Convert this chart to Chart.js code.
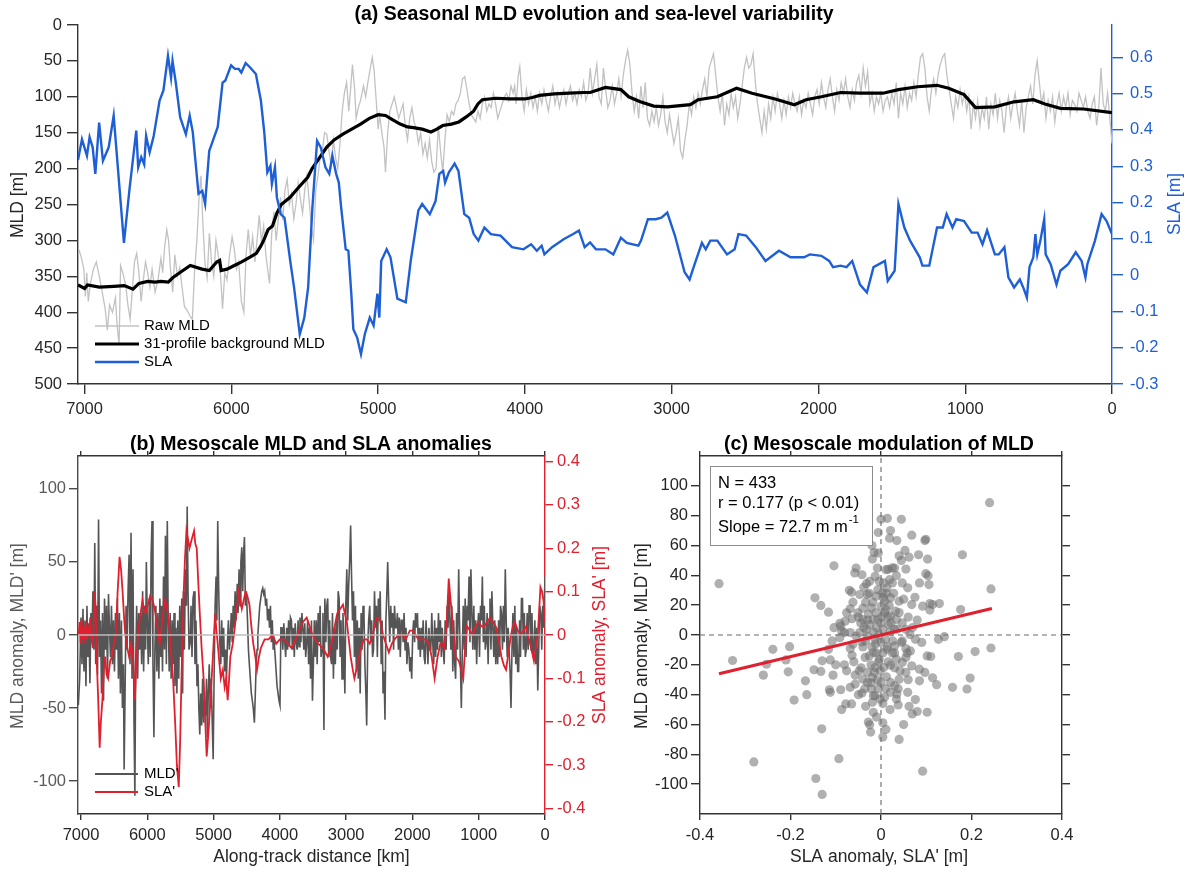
<!DOCTYPE html>
<html>
<head>
<meta charset="utf-8">
<script src="https://cdn.jsdelivr.net/npm/chart.js@4.4.1/dist/chart.umd.min.js"></script>
<style>
  body { margin: 0; background: #fff; width: 1195px; height: 874px; overflow: hidden; position: relative; }
  canvas { position: absolute; }
  #chartA { left: 0; top: 0; }
  #chartB { left: 0; top: 420px; }
  #chartC { left: 615px; top: 420px; }
</style>
</head>
<body>
<canvas id="chartA" width="1195" height="430"></canvas>
<canvas id="chartB" width="615" height="454"></canvas>
<canvas id="chartC" width="580" height="454"></canvas>
<script>
// ---- data: along-track distance [km] and values ----
const distTicks = [0, 1000, 2000, 3000, 4000, 5000, 6000, 7000];
const mldTicks = [0, 50, 100, 150, 200, 250, 300, 350, 400, 450, 500];
const slaTicks = [-0.3, -0.2, -0.1, 0, 0.1, 0.2, 0.3, 0.4, 0.5, 0.6];
const anomMldTicks = [-100, -50, 0, 50, 100];
const anomSlaTicks = [-0.4, -0.3, -0.2, -0.1, 0, 0.1, 0.2, 0.3, 0.4];
const scatXTicks = [-0.4, -0.2, 0, 0.2, 0.4];
const scatYTicks = [-100, -80, -60, -40, -20, 0, 20, 40, 60, 80, 100];

// raw MLD [km, m]
const rawMld = [[7045,320],[7035,315],[7020,326],[7005,340],[6995,378],[6985,345],[6975,385],[6960,360],[6940,340],[6920,330],[6900,350],[6880,372],[6860,395],[6845,425],[6830,390],[6810,400],[6790,380],[6778,420],[6765,445],[6755,335],[6740,345],[6720,362],[6705,390],[6690,410],[6675,370],[6660,330],[6645,318],[6630,345],[6615,385],[6600,355],[6585,330],[6570,345],[6555,365],[6540,340],[6520,372],[6500,355],[6480,325],[6468,345],[6455,310],[6440,285],[6428,300],[6415,340],[6400,372],[6385,320],[6368,350],[6352,338],[6336,365],[6320,392],[6300,398],[6283,405],[6266,410],[6250,340],[6235,300],[6220,240],[6207,210],[6195,272],[6180,332],[6165,352],[6150,290],[6135,330],[6120,350],[6105,300],[6090,320],[6075,345],[6060,395],[6045,345],[6030,355],[6012,320],[5995,295],[5980,312],[5965,340],[5950,330],[5932,385],[5915,400],[5900,320],[5885,285],[5870,322],[5855,295],[5840,330],[5825,300],[5810,265],[5795,302],[5780,280],[5765,320],[5750,345],[5740,360],[5725,290],[5710,260],[5695,300],[5680,270],[5665,240],[5650,272],[5635,230],[5620,215],[5605,250],[5590,235],[5575,270],[5560,250],[5545,220],[5530,242],[5515,262],[5500,230],[5485,210],[5470,245],[5455,282],[5440,300],[5425,230],[5410,210],[5395,185],[5380,175],[5365,150],[5350,152],[5335,175],[5320,195],[5305,160],[5290,185],[5275,200],[5260,165],[5245,120],[5230,95],[5215,80],[5200,120],[5188,90],[5175,55],[5160,90],[5150,130],[5135,115],[5120,105],[5100,85],[5085,100],[5070,80],[5055,62],[5040,45],[5028,62],[5015,100],[5000,145],[4990,125],[4975,150],[4960,170],[4950,205],[4935,150],[4920,120],[4905,110],[4890,100],[4875,115],[4860,130],[4845,120],[4830,110],[4815,140],[4800,160],[4785,130],[4770,115],[4755,135],[4740,145],[4725,165],[4710,150],[4695,180],[4680,165],[4665,185],[4650,160],[4635,190],[4620,205],[4605,200],[4590,140],[4575,175],[4560,205],[4545,160],[4530,125],[4515,135],[4500,120],[4485,125],[4470,110],[4455,105],[4440,95],[4425,75],[4410,72],[4395,90],[4380,110],[4365,125],[4350,130],[4335,135],[4320,120],[4305,130],[4290,110],[4275,100],[4260,120],[4245,110],[4230,115],[4215,95],[4200,110],[4185,130],[4170,120],[4155,110],[4140,100],[4125,95],[4110,105],[4095,85],[4080,95],[4070,85],[4060,110],[4045,70],[4035,58],[4020,100],[4005,120],[3990,90],[3975,110],[3960,95],[3945,115],[3930,100],[3915,120],[3900,95],[3885,110],[3870,90],[3855,105],[3840,120],[3825,100],[3810,85],[3795,110],[3780,95],[3765,115],[3750,100],[3735,90],[3720,110],[3705,95],[3690,85],[3675,105],[3660,95],[3645,110],[3630,90],[3615,100],[3600,80],[3585,105],[3570,95],[3555,60],[3540,95],[3525,75],[3510,55],[3495,100],[3480,110],[3465,60],[3450,90],[3435,115],[3420,105],[3405,85],[3390,110],[3375,95],[3360,75],[3345,100],[3330,70],[3315,50],[3300,35],[3285,55],[3270,95],[3255,120],[3240,100],[3225,130],[3210,85],[3195,115],[3180,80],[3165,130],[3150,140],[3135,120],[3120,135],[3105,115],[3090,140],[3075,125],[3060,100],[3045,135],[3030,150],[3015,125],[3000,145],[2985,165],[2970,150],[2955,130],[2940,175],[2925,185],[2910,160],[2895,140],[2880,110],[2865,125],[2850,100],[2835,115],[2820,95],[2805,110],[2790,90],[2775,75],[2760,100],[2745,60],[2730,50],[2715,40],[2700,70],[2685,100],[2670,120],[2655,95],[2640,140],[2625,110],[2610,125],[2595,95],[2580,115],[2565,100],[2550,130],[2535,110],[2520,85],[2505,60],[2490,45],[2475,60],[2460,55],[2445,40],[2430,80],[2415,110],[2400,130],[2385,150],[2370,120],[2355,145],[2340,110],[2325,130],[2310,100],[2295,120],[2280,95],[2265,110],[2250,130],[2235,105],[2220,125],[2205,100],[2190,115],[2175,95],[2160,110],[2145,120],[2130,100],[2115,125],[2100,105],[2085,115],[2070,95],[2055,110],[2040,125],[2025,100],[2010,90],[1995,110],[1980,80],[1965,100],[1950,115],[1935,90],[1920,75],[1905,100],[1890,120],[1875,90],[1860,105],[1845,80],[1830,95],[1815,75],[1800,100],[1785,115],[1770,90],[1755,105],[1740,80],[1725,70],[1710,95],[1695,60],[1680,85],[1665,65],[1650,110],[1635,95],[1620,120],[1605,100],[1590,110],[1575,95],[1560,120],[1545,105],[1530,100],[1515,115],[1500,95],[1485,110],[1470,80],[1455,130],[1440,95],[1425,110],[1410,85],[1395,115],[1380,95],[1365,105],[1350,80],[1335,100],[1320,70],[1305,45],[1290,40],[1275,60],[1260,100],[1245,120],[1230,90],[1215,75],[1200,95],[1185,70],[1170,55],[1155,45],[1140,40],[1125,70],[1110,90],[1095,110],[1080,130],[1065,100],[1050,115],[1035,90],[1020,110],[1005,95],[990,120],[975,100],[960,145],[945,110],[930,130],[915,105],[900,140],[885,115],[870,130],[855,100],[840,145],[825,110],[810,125],[795,95],[780,130],[765,105],[750,120],[735,150],[720,115],[705,100],[690,130],[675,110],[660,95],[645,120],[630,140],[615,105],[600,150],[585,115],[570,100],[555,85],[540,110],[525,70],[510,50],[495,80],[480,110],[465,95],[450,130],[435,105],[420,120],[405,100],[390,135],[375,110],[360,95],[345,120],[330,100],[315,115],[300,95],[285,125],[270,105],[255,110],[240,120],[225,95],[210,105],[195,115],[180,100],[165,120],[150,130],[135,110],[120,100],[105,140],[90,115],[75,60],[60,110],[45,120],[30,95],[15,130],[0,165]];

// 31-profile background MLD [km, m]
const bgMld = [[7045,362],[7000,367],[6980,362],[6900,365],[6800,364],[6730,363],[6670,368],[6630,360],[6570,357],[6520,358],[6480,357],[6430,358],[6400,352],[6330,342],[6280,335],[6200,340],[6150,342],[6100,330],[6080,328],[6070,342],[6030,340],[5980,335],[5930,330],[5870,323],[5830,318],[5800,308],[5780,300],[5750,285],[5720,280],[5690,262],[5660,250],[5600,240],[5550,228],[5480,212],[5450,200],[5400,185],[5350,170],[5300,160],[5240,152],[5180,145],[5120,138],[5060,130],[5000,125],[4950,126],[4900,132],[4850,138],[4800,142],[4760,143],[4700,145],[4640,149],[4600,145],[4560,140],[4500,138],[4450,135],[4400,128],[4350,120],[4320,110],[4290,104],[4200,102],[4100,103],[4000,103],[3950,101],[3900,98],[3850,97],[3800,96],[3700,95],[3600,94],[3556,94],[3451,87],[3346,90],[3293,100],[3214,107],[3122,113],[3030,114],[2873,111],[2820,104],[2689,100],[2558,88],[2453,95],[2295,103],[2164,111],[2085,104],[1980,100],[1849,94],[1717,95],[1560,95],[1455,90],[1324,86],[1192,84],[1113,88],[1008,97],[930,115],[798,114],[667,107],[536,104],[457,110],[352,116],[194,117],[0,122]];

// SLA [km, m]
const sla = [[7045,0.317],[7018,0.374],[6984,0.329],[6966,0.38],[6945,0.352],[6927,0.279],[6901,0.42],[6875,0.315],[6836,0.352],[6802,0.439],[6732,0.089],[6693,0.241],[6648,0.398],[6635,0.297],[6614,0.325],[6594,0.305],[6581,0.384],[6557,0.338],[6529,0.384],[6489,0.481],[6463,0.509],[6432,0.604],[6411,0.544],[6401,0.59],[6380,0.534],[6349,0.435],[6310,0.388],[6284,0.439],[6263,0.394],[6224,0.224],[6198,0.232],[6179,0.196],[6151,0.342],[6133,0.362],[6093,0.408],[6060,0.53],[6041,0.536],[6002,0.578],[5976,0.568],[5950,0.568],[5932,0.558],[5903,0.584],[5872,0.572],[5833,0.554],[5799,0.481],[5776,0.394],[5755,0.283],[5734,0.301],[5724,0.251],[5703,0.297],[5690,0.214],[5664,0.168],[5638,0.158],[5599,0.039],[5573,-0.034],[5534,-0.163],[5503,-0.117],[5477,-0.034],[5448,0.186],[5416,0.37],[5391,0.352],[5359,0.297],[5333,0.279],[5312,0.329],[5286,0.279],[5268,0.255],[5252,0.186],[5221,0.071],[5203,0.067],[5182,-0.057],[5169,-0.149],[5143,-0.172],[5117,-0.218],[5091,-0.163],[5057,-0.117],[5031,-0.139],[5005,-0.051],[4992,-0.117],[4979,0.039],[4942,0.071],[4916,0.049],[4869,-0.065],[4812,-0.075],[4778,0.039],[4726,0.178],[4700,0.196],[4648,0.168],[4609,0.204],[4583,0.279],[4557,0.287],[4544,0.255],[4518,0.283],[4479,0.307],[4453,0.287],[4413,0.168],[4380,0.158],[4349,0.113],[4317,0.095],[4276,0.131],[4232,0.113],[4166,0.109],[4088,0.077],[4010,0.071],[3958,0.085],[3919,0.067],[3886,0.081],[3867,0.057],[3815,0.077],[3736,0.099],[3671,0.113],[3632,0.123],[3593,0.077],[3556,0.09],[3516,0.071],[3451,0.071],[3398,0.057],[3346,0.103],[3306,0.089],[3227,0.081],[3209,0.095],[3162,0.154],[3109,0.154],[3070,0.158],[3030,0.172],[2978,0.109],[2912,0.008],[2878,-0.012],[2847,0.026],[2794,0.089],[2768,0.071],[2737,0.095],[2689,0.095],[2623,0.057],[2571,0.071],[2545,0.113],[2493,0.109],[2427,0.077],[2361,0.039],[2269,0.067],[2190,0.049],[2098,0.049],[2059,0.057],[1980,0.053],[1927,0.039],[1901,0.022],[1849,0.026],[1809,0.022],[1770,0.039],[1717,-0.026],[1670,-0.048],[1625,0.022],[1547,0.039],[1528,-0.016],[1481,0.012],[1455,0.196],[1415,0.131],[1376,0.095],[1310,0.049],[1292,0.026],[1245,0.026],[1192,0.131],[1153,0.131],[1127,0.168],[1087,0.131],[1061,0.154],[1008,0.149],[956,0.117],[916,0.117],[882,0.085],[851,0.123],[798,0.057],[772,0.057],[733,0.077],[706,-0.006],[667,-0.034],[628,-0.012],[601,-0.038],[580,-0.062],[562,0.022],[536,0.049],[522,0.113],[509,0.057],[488,0.095],[462,0.154],[452,0.057],[418,0.03],[378,-0.026],[352,0.012],[299,0.03],[247,0.063],[207,0.039],[181,-0.006],[168,0.03],[116,0.095],[71,0.168],[37,0.149],[0,0.113]];

// MLD anomaly MLD' [km, m]
const mldAnom = [[7040,-48],[7020,-30],[7000,12],[6985,-20],[6970,18],[6955,-25],[6940,10],[6925,-35],[6910,20],[6895,-15],[6880,8],[6865,-33],[6850,15],[6835,-5],[6820,30],[6805,-10],[6792,63],[6778,-20],[6765,20],[6750,-27],[6735,79],[6720,-15],[6705,10],[6690,-40],[6675,15],[6660,-45],[6645,25],[6630,-10],[6615,20],[6600,-30],[6585,28],[6570,5],[6555,-15],[6540,20],[6525,-20],[6510,10],[6495,-25],[6480,15],[6465,-10],[6450,25],[6435,-30],[6420,15],[6405,-40],[6390,10],[6375,-50],[6360,-20],[6349,-92],[6335,-40],[6320,20],[6305,-10],[6290,30],[6274,55],[6260,-20],[6245,70],[6230,-30],[6215,45],[6200,-60],[6187,-110],[6175,-20],[6160,20],[6145,-30],[6130,15],[6115,-10],[6101,15],[6085,-20],[6070,30],[6055,-25],[6040,20],[6025,-10],[6014,50],[6000,10],[5985,-20],[5970,25],[5955,-15],[5942,55],[5928,78],[5914,-20],[5900,-70],[5885,-10],[5870,20],[5855,-25],[5840,15],[5825,-30],[5810,25],[5795,-15],[5784,20],[5770,-25],[5755,40],[5740,-10],[5726,68],[5712,-20],[5698,78],[5684,10],[5669,-25],[5655,15],[5640,-30],[5625,10],[5610,-20],[5596,15],[5582,-35],[5568,5],[5553,-40],[5540,10],[5525,-30],[5510,20],[5495,-15],[5480,25],[5467,-40],[5455,30],[5440,-10],[5425,45],[5410,20],[5398,88],[5385,30],[5370,-10],[5352,-5],[5340,20],[5325,-15],[5310,25],[5294,30],[5280,-20],[5265,10],[5250,-35],[5236,-20],[5222,-50],[5208,-68],[5195,-40],[5180,-62],[5165,-30],[5150,-60],[5135,-45],[5120,-55],[5107,-30],[5093,-70],[5080,-40],[5065,-20],[5050,-50],[5035,-30],[5020,-60],[5006,-85],[4992,-30],[4977,20],[4962,40],[4950,10],[4937,78],[4922,30],[4906,-5],[4891,-20],[4877,10],[4862,-15],[4848,5],[4833,-25],[4819,-10],[4805,-30],[4790,-5],[4776,10],[4762,-10],[4747,0],[4733,15],[4718,-5],[4704,20],[4690,5],[4675,30],[4660,10],[4643,35],[4630,15],[4615,45],[4600,20],[4588,50],[4574,60],[4560,30],[4548,55],[4534,67],[4520,20],[4505,30],[4488,10],[4474,-10],[4460,-20],[4445,-30],[4430,-40],[4415,-45],[4401,-50],[4384,-60],[4370,-40],[4357,-20],[4344,-10],[4332,0],[4318,10],[4303,20],[4288,25],[4272,30],[4258,32],[4243,28],[4229,30],[4214,20],[4200,25],[4185,10],[4170,18],[4156,5],[4142,20],[4128,-5],[4114,10],[4100,-10],[4085,-5],[4070,-15],[4056,-25],[4042,-35],[4027,-40],[4012,-45],[3998,-48],[3984,5],[3969,5],[3955,-10],[3940,8],[3926,-5],[3912,-15],[3897,5],[3883,-10],[3868,10],[3854,-8],[3840,12],[3825,10],[3811,-10],[3796,5],[3782,-15],[3768,8],[3753,-5],[3739,-10],[3725,10],[3710,-8],[3696,12],[3682,-5],[3667,15],[3653,5],[3638,-10],[3624,8],[3610,-15],[3595,-5],[3580,10],[3566,-20],[3552,5],[3537,-30],[3523,10],[3508,-45],[3494,-20],[3480,10],[3466,-15],[3451,10],[3437,-20],[3422,15],[3408,-5],[3393,20],[3379,-15],[3364,-10],[3350,15],[3335,-65],[3321,25],[3306,-5],[3292,20],[3278,25],[3263,-15],[3249,10],[3234,-15],[3220,-20],[3206,15],[3192,-30],[3177,5],[3163,-20],[3148,10],[3134,-10],[3120,30],[3106,25],[3091,-15],[3077,10],[3062,-30],[3048,15],[3034,-5],[3019,-40],[3005,20],[2990,45],[2976,10],[2961,35],[2947,50],[2932,75],[2918,40],[2904,10],[2889,30],[2875,-15],[2860,20],[2846,-25],[2831,10],[2817,-30],[2803,5],[2788,-40],[2774,15],[2760,-10],[2745,20],[2731,15],[2717,-20],[2702,-40],[2690,-62],[2675,-10],[2660,10],[2644,20],[2630,-5],[2615,10],[2601,-15],[2587,-10],[2572,30],[2558,5],[2543,20],[2529,-15],[2514,25],[2500,10],[2486,30],[2471,-20],[2457,10],[2443,-40],[2428,-25],[2414,-58],[2400,10],[2385,30],[2373,50],[2357,20],[2342,-5],[2327,20],[2313,5],[2298,15],[2284,-10],[2270,20],[2255,5],[2241,5],[2227,15],[2212,-10],[2198,12],[2183,-15],[2169,10],[2155,10],[2140,-5],[2126,15],[2111,-10],[2097,5],[2083,-20],[2068,-5],[2054,-10],[2039,-25],[2025,-15],[2011,-30],[1996,0],[1982,10],[1967,-5],[1953,15],[1938,5],[1924,15],[1910,-10],[1896,5],[1881,-15],[1867,5],[1852,-10],[1838,10],[1823,-15],[1809,-20],[1795,10],[1780,-5],[1766,-20],[1751,5],[1737,-10],[1723,-10],[1708,15],[1694,-5],[1679,-20],[1665,10],[1650,-15],[1636,5],[1622,-10],[1607,15],[1593,-5],[1578,10],[1564,-15],[1550,5],[1535,-10],[1521,-20],[1506,10],[1492,-10],[1477,20],[1463,5],[1448,30],[1434,30],[1420,-10],[1405,20],[1391,-25],[1377,10],[1362,-20],[1348,-30],[1334,15],[1319,-10],[1302,45],[1290,10],[1276,-20],[1262,-50],[1247,-10],[1233,20],[1218,-10],[1204,25],[1190,-15],[1175,20],[1161,10],[1146,40],[1132,-5],[1118,45],[1103,15],[1089,-10],[1074,20],[1060,-10],[1045,10],[1031,-20],[1017,5],[1002,15],[988,-15],[973,20],[959,10],[945,40],[930,-5],[916,20],[901,-10],[887,-5],[873,15],[858,-20],[844,10],[830,25],[815,-10],[801,30],[786,5],[772,-15],[758,10],[743,-20],[729,5],[714,-20],[700,10],[686,-15],[671,20],[657,15],[642,-10],[628,20],[614,-5],[599,45],[585,10],[570,-15],[556,5],[542,-10],[527,-25],[513,-50],[498,-10],[484,15],[470,-15],[455,20],[441,-20],[427,5],[412,-25],[398,-25],[383,10],[369,-15],[355,25],[340,25],[326,-10],[312,15],[297,-15],[283,-10],[269,15],[254,-10],[240,20],[225,20],[211,-10],[197,15],[182,-15],[167,-10],[153,10],[139,-20],[124,5],[109,-38],[95,-10],[80,20],[63,15],[49,-10],[35,20],[20,5],[0,40]];

// SLA anomaly SLA' [km, m]
const slaAnom = [[7034,0],[7020,0.03],[7005,-0.02],[6994,0.035],[6980,-0.01],[6965,0.02],[6950,-0.02],[6925,0.03],[6905,-0.01],[6890,0.02],[6875,0],[6861,0.04],[6840,-0.01],[6821,-0.03],[6805,0.04],[6792,0.1],[6778,0.06],[6764,-0.05],[6740,-0.15],[6718,-0.26],[6700,-0.2],[6677,-0.15],[6655,-0.08],[6637,-0.05],[6615,-0.09],[6591,-0.1],[6560,-0.06],[6533,-0.05],[6505,-0.02],[6475,0],[6447,0.1],[6432,0.14],[6418,0.18],[6395,0.15],[6372,0.1],[6350,0.04],[6331,0],[6300,-0.03],[6274,-0.05],[6245,-0.02],[6216,-0.05],[6200,-0.1],[6187,-0.15],[6165,-0.06],[6141,0],[6110,0.04],[6072,0.08],[6050,0.06],[6026,0.05],[5990,0.07],[5957,0.09],[5920,0.08],[5888,0.06],[5850,0.02],[5813,-0.02],[5775,0.03],[5738,0.08],[5710,0.07],[5680,0.04],[5645,-0.03],[5611,-0.1],[5580,-0.2],[5553,-0.3],[5525,-0.35],[5505,-0.25],[5484,-0.1],[5467,0],[5450,0.1],[5430,0.18],[5409,0.24],[5385,0.22],[5363,0.2],[5330,0.22],[5294,0.24],[5275,0.21],[5254,0.2],[5230,0.12],[5208,0.05],[5180,-0.03],[5150,-0.1],[5125,-0.2],[5104,-0.28],[5075,-0.22],[5047,-0.15],[5010,-0.05],[4977,0.05],[4957,0.01],[4937,-0.02],[4915,-0.06],[4891,-0.1],[4860,-0.08],[4833,-0.12],[4810,-0.1],[4787,-0.15],[4765,-0.1],[4747,-0.05],[4710,-0.02],[4678,0.02],[4650,0.06],[4620,0.1],[4597,0.08],[4574,0.06],[4545,0.08],[4517,0.1],[4490,0.09],[4459,0.07],[4430,0.02],[4401,-0.02],[4370,-0.05],[4344,-0.08],[4315,-0.05],[4286,-0.03],[4230,-0.01],[4171,-0.01],[4110,0],[4056,-0.02],[4000,-0.01],[3941,-0.01],[3880,-0.02],[3825,-0.03],[3765,-0.01],[3710,0.01],[3650,0.03],[3595,0.04],[3550,0.02],[3508,0],[3465,-0.01],[3422,-0.02],[3350,-0.03],[3278,-0.05],[3235,-0.03],[3192,0],[3160,0.03],[3134,0.05],[3090,0.06],[3048,0.07],[3020,0.05],[2990,0.03],[2960,-0.01],[2932,-0.05],[2900,-0.08],[2875,-0.1],[2845,-0.08],[2817,-0.06],[2775,-0.03],[2731,-0.01],[2690,-0.01],[2644,-0.02],[2600,0],[2558,0.03],[2530,0.04],[2500,0.04],[2470,0.02],[2443,0],[2400,-0.02],[2356,-0.04],[2310,-0.02],[2270,-0.01],[2210,0],[2155,0],[2100,-0.01],[2039,0.01],[1995,0.01],[1953,0],[1910,-0.01],[1867,-0.01],[1810,-0.01],[1751,-0.02],[1710,-0.05],[1665,-0.1],[1620,-0.05],[1579,-0.02],[1550,-0.02],[1521,-0.03],[1485,0.02],[1452,0.13],[1430,0.09],[1406,0.05],[1375,0],[1348,-0.05],[1300,-0.06],[1262,-0.08],[1233,-0.1],[1205,-0.03],[1175,0.02],[1130,0.01],[1089,0],[1045,0.02],[1002,0.03],[960,0.02],[916,0.02],[870,0.03],[830,0.04],[785,0.03],[743,0.02],[700,-0.01],[657,-0.05],[620,-0.07],[588,-0.08],[550,-0.04],[513,0],[485,0.02],[455,0.03],[410,0.01],[369,0],[325,0.01],[282,0.02],[255,0],[225,-0.02],[195,-0.04],[167,-0.06],[140,-0.03],[109,0],[90,0.05],[69,0.11],[45,0.1],[23,0.08],[0,0.03]];
const zeroLineKm = [7045, 0];

// scatter: [SLA' m, MLD' m]
const scatterPts = [[0.24,88.7],[-0.358,34.4],[0.243,30.9],[0.243,-8.7],[0.18,53.8],[0.176,17.1],[0.171,-14.4],[0.158,-35.1],[0.19,-36.2],[0.197,-28.9],[0.208,-11.1],[0.14,-1.1],[0.127,-2.9],[0.129,21.1],[0.108,21.1],[0.108,16.7],[0.102,-14],[0.11,-14.4],[0.114,-28.7],[0.123,-33.3],[0.102,-51.8],[0.08,-51.3],[0.069,-52.9],[0.076,-43.3],[0.062,-47.8],[0.038,-46.9],[0.04,-70],[0.092,-91.3],[0.004,-58.9],[0.011,-63.3],[0.004,-68.4],[-0.025,-60.2],[-0.023,-65.1],[-0.093,-82.9],[-0.131,-62.9],[-0.144,-96.2],[-0.13,-106.9],[-0.281,-85.1],[-0.26,-26.9],[-0.328,-17.1],[-0.253,-19.6],[-0.239,-9.6],[-0.202,-7.8],[-0.205,-24.7],[-0.21,-16.7],[-0.192,-43.6],[-0.167,-30.7],[-0.164,-40],[-0.148,-23.3],[-0.133,-24.4],[-0.13,-17.3],[-0.112,-16.7],[-0.106,-26.9],[-0.114,-36.7],[-0.112,-38.4],[-0.089,-36.7],[-0.078,-46.2],[-0.065,-46.2],[-0.087,-50],[-0.068,-35.1],[-0.057,-32.9],[-0.042,-38.9],[-0.034,-47.8],[-0.019,-45.1],[-0.017,-40.7],[-0.021,-36.2],[-0.048,-24],[-0.057,-26.9],[-0.081,-20],[-0.076,-24],[-0.064,-13.6],[-0.068,-9.1],[-0.108,-4],[-0.104,4.9],[-0.089,6],[-0.081,1.6],[-0.079,9.3],[-0.076,14.9],[-0.068,17.6],[-0.062,22],[-0.065,28.7],[-0.055,44.9],[-0.058,41.6],[-0.042,40.4],[-0.038,32],[-0.03,27.1],[-0.032,34.4],[-0.025,36],[-0.008,44.9],[-0.006,54.9],[-0.019,50.9],[-0.015,55.3],[0,77.6],[0.014,78.2],[-0.006,68.7],[0.021,70],[0.019,64.9],[0.045,77.6],[0.068,66.9],[0.035,63.3],[0.099,64.2],[0.097,63.3],[0.053,56.7],[0.04,53.1],[0.045,50],[0.083,53.8],[0.103,50.9],[0.062,52.2],[0.055,44.2],[0.034,39.8],[0.03,44.9],[0.011,43.8],[0.099,41.1],[0.104,39.8],[0.106,33.8],[0.085,34.9],[0.047,34.9],[0.059,31.6],[0.075,25.3],[0.068,20.4],[0.092,19.3],[0.114,20.4],[0.04,22.7],[0.021,24.9],[0.013,31.6],[0.025,34.9],[0.003,28.2],[-0.011,26],[-0.104,46.4],[-0.146,24.9],[-0.133,19.8],[-0.116,15.3],[-0.091,7.8],[-0.087,2.7],[-0.064,10.9],[-0.051,14.9],[-0.04,10.4],[-0.038,4.9],[-0.025,7.1],[-0.017,10.4],[-0.011,14.9],[0,19.3],[0.011,17.1],[0.021,12.7],[0.034,10.4],[0.047,8.2],[0.055,3.8],[0.064,0.4],[0.076,-2.9],[0.047,-4],[0.03,-7.3],[0.013,-9.6],[0,-5.1],[-0.013,-2.9],[-0.03,-0.7],[-0.042,-4.7],[-0.055,-0.7],[-0.062,-6.2],[-0.017,-11.8],[-0.004,-16.2],[0.006,-21.8],[-0.013,-21.8],[-0.03,-25.1],[-0.019,-28.4],[0,-31.8],[0.021,-31.8],[0.03,-34],[0.04,-29.6],[0.055,-25.1],[0.068,-20.7],[0.085,-22.9],[0.055,-15.1],[0.034,-16.2],[0.021,-20.2],[0.047,-18.4],[0.055,-9.1],[0.065,-10.7],[-0.006,-35.8],[0.021,-38.4],[0.035,-39.6],[-0.03,-31.8],[-0.04,-29.6],[-0.007,10.4],[0.004,3.8],[0.017,7.1],[0.03,3.8],[-0.021,18.2],[-0.034,22],[-0.047,27.1],[0.008,22.7],[-0.007,30.4],[0.006,34.9],[0.019,37.1],[-0.013,39.3],[-0.032,3.8],[-0.047,1.6],[-0.068,1.6],[-0.091,-1.8],[-0.017,-51.8],[-0.028,-58.4],[-0.002,-42.9],[0.008,-41.8],[-0.013,-40.7],[0.034,-42.9],[0.059,-38.4],[0.085,-30.7],[0.097,-25.1],[-0.116,-9.6],[-0.01,5],[0.01,-3],[-0.02,-8],[0.015,12],[-0.005,-18],[0.025,-12],[-0.028,14],[0.005,25],[-0.015,-25],[0.02,2],[-0.035,-15],[0.04,15],[-0.045,8],[0.045,-5],[0,8],[-0.01,-12],[0.012,-28],[-0.022,-32],[0.028,28],[-0.04,-8],[0.06,12],[-0.06,-18],[0.07,5],[-0.05,-40],[0.02,-50],[-0.01,-55],[0.05,-60],[0.025,45],[-0.02,60],[0.03,-22],[0.09,-5],[-0.1,-20],[0.08,10],[0.06,-30],[-0.07,30],[-0.005,0],[0.008,15],[-0.018,22],[0.016,-18],[-0.026,-14],[0.036,4],[-0.002,-24],[0.012,28],[-0.03,10],[0.026,-4],[-0.012,-6],[0.002,12],[-0.022,-20],[0.018,20],[0.03,-12],[-0.04,18],[0.042,-24],[-0.008,-30],[0.014,-8],[-0.016,2],[0.022,8],[-0.034,-4],[0.004,-12],[0.032,16],[-0.026,28],[0.01,-36],[-0.004,36],[0.038,-36],[-0.044,-22],[0.05,24],[0.004,-46],[-0.036,-36],[0.016,44],[-0.05,12],[0.058,-12]];
const fitX = [-0.358, 0.245];
const fitY = [-26, 17.8];
const statsLines = ['N = 433', 'r = 0.177 (p < 0.01)'];

// ---- styling helpers ----
const FONT = '"Liberation Sans", Arial, Helvetica, sans-serif';
const DARK = '#333333';
const BLUE = '#1f5fd6';
const RED = '#e0202e';

function fmt(v) { return String(+v.toFixed(1)); }

function axis(o) {
  return {
    type: 'linear', position: o.pos, min: o.min, max: o.max, reverse: !!o.reverse,
    afterBuildTicks: s => { s.ticks = o.ticks.map(v => ({ value: v })); },
    afterFit: s => { if (o.w != null) s.width = o.w; if (o.h != null) s.height = o.h; },
    border: { display: true, color: o.color, width: 1.4 },
    grid: { drawOnChartArea: false, drawTicks: true, tickLength: o.tl, color: o.color, lineWidth: 1.4 },
    ticks: {
      display: o.labels !== false, color: o.labelColor || o.color, padding: o.pad == null ? 4 : o.pad,
      autoSkip: false, maxRotation: 0, font: { family: FONT, size: 16.5 }, callback: v => fmt(v)
    }
  };
}

function line(pairs, yAxisID, color, width, order) {
  return {
    data: pairs.map(p => ({ x: p[0], y: p[1] })), yAxisID, borderColor: color, borderWidth: width,
    pointRadius: 0, fill: false, tension: 0, order, showLine: true
  };
}

function label(ctx, s, x, y, o) {
  o = o || {};
  ctx.save();
  ctx.font = (o.bold ? 'bold ' : '') + (o.size || 17.5) + 'px ' + FONT;
  ctx.fillStyle = o.color || '#262626';
  ctx.textAlign = o.align || 'center';
  ctx.textBaseline = 'middle';
  ctx.translate(x, y);
  if (o.rot) ctx.rotate(-Math.PI / 2);
  ctx.fillText(s, 0, 0);
  ctx.restore();
}

function legend(ctx, items, x0, x1, tx, y0, dy) {
  items.forEach((it, i) => {
    const y = y0 + i * dy;
    ctx.save();
    ctx.strokeStyle = it.color; ctx.lineWidth = it.w;
    ctx.beginPath(); ctx.moveTo(x0, y); ctx.lineTo(x1, y); ctx.stroke();
    ctx.restore();
    label(ctx, it.text, tx, y, { align: 'left', size: 15, color: '#000' });
  });
}

const common = {
  options: {
    responsive: false, animation: false, devicePixelRatio: 1, events: [],
    layout: { autoPadding: false, padding: 0 },
    plugins: { legend: { display: false }, tooltip: { enabled: false } }
  }
};

// ---- (a) seasonal MLD and SLA ----
new Chart(document.getElementById('chartA'), {
  type: 'line',
  data: {
    datasets: [
      line(rawMld, 'y', '#c2c2c2', 1.3, 3),
      line(bgMld, 'y', '#000000', 3.2, 2),
      line(sla, 'y2', BLUE, 2.4, 1)
    ]
  },
  options: Object.assign({}, common.options, {
    layout: { autoPadding: false, padding: { top: 25, left: 0, right: 0, bottom: 0 } },
    scales: {
      x: axis({ pos: 'bottom', min: 0, max: 7045, reverse: true, ticks: distTicks, h: 46, tl: 10, pad: 6, color: DARK, labelColor: '#262626' }),
      y: axis({ pos: 'left', min: 0, max: 500, reverse: true, ticks: mldTicks, w: 78, tl: 11, pad: 5, color: DARK, labelColor: '#262626' }),
      y2: axis({ pos: 'right', min: -0.3, max: 0.689, ticks: slaTicks, w: 83, tl: 11, pad: 7, color: BLUE })
    }
  }),
  plugins: [{
    id: 'decorA',
    afterDraw(chart) {
      const ctx = chart.ctx;
      label(ctx, '(a) Seasonal MLD evolution and sea-level variability', 594, 15, { bold: true, size: 19.5, color: '#000' });
      label(ctx, 'MLD [m]', 18.5, 205, { rot: true });
      label(ctx, 'SLA [m]', 1175, 204, { rot: true, color: BLUE });
      legend(ctx, [
        { text: 'Raw MLD', color: '#c2c2c2', w: 1.5 },
        { text: '31-profile background MLD', color: '#000', w: 3.2 },
        { text: 'SLA', color: BLUE, w: 2.6 }
      ], 95, 139, 144, 326, 18);
    }
  }]
});

// ---- (b) mesoscale anomalies ----
new Chart(document.getElementById('chartB'), {
  type: 'line',
  data: {
    datasets: [
      line(mldAnom, 'y', '#555555', 1.6, 3),
      line(slaAnom, 'y2', RED, 1.8, 2),
      line(zeroLineKm.map(k => [k, 0]), 'y', '#bdbdbd', 1.5, 1)
    ]
  },
  options: Object.assign({}, common.options, {
    scales: {
      x: axis({ pos: 'bottom', min: 0, max: 7045, reverse: true, ticks: distTicks, h: 60, tl: 6, pad: 6, color: DARK, labelColor: '#262626' }),
      x2: axis({ pos: 'top', min: 0, max: 7045, reverse: true, ticks: distTicks, h: 36, tl: 5, color: DARK, labels: false }),
      y: axis({ pos: 'left', min: -122.5, max: 122.5, ticks: anomMldTicks, w: 78, tl: 9, pad: 3, color: '#4a4a4a', labelColor: '#5a5a5a' }),
      y2: axis({ pos: 'right', min: -0.4125, max: 0.4125, ticks: anomSlaTicks, w: 70, tl: 8, pad: 4, color: RED })
    }
  }),
  plugins: [{
    id: 'decorB',
    afterDraw(chart) {
      const ctx = chart.ctx;
      label(ctx, '(b) Mesoscale MLD and SLA anomalies', 311, 25, { bold: true, size: 19.5, color: '#000' });
      label(ctx, "MLD anomaly, MLD' [m]", 18.3, 216, { rot: true, color: '#5a5a5a' });
      label(ctx, "SLA anomaly, SLA' [m]", 600, 215, { rot: true, color: RED });
      label(ctx, 'Along-track distance [km]', 311.5, 437, {});
      legend(ctx, [
        { text: "MLD'", color: '#555555', w: 1.8 },
        { text: "SLA'", color: RED, w: 1.8 }
      ], 95, 138, 144, 354, 18);
    }
  }]
});

// ---- (c) scatter ----
new Chart(document.getElementById('chartC'), {
  type: 'scatter',
  data: {
    datasets: [
      {
        type: 'line', data: fitX.map((x, i) => ({ x, y: fitY[i] })), borderColor: RED, borderWidth: 3,
        pointRadius: 0, fill: false, order: 0, yAxisID: 'y'
      },
      {
        data: scatterPts.map(p => ({ x: p[0], y: p[1] })), pointRadius: 4.6, borderWidth: 0,
        backgroundColor: 'rgba(112,112,112,0.55)', order: 1, yAxisID: 'y'
      },
      {
        type: 'line', data: [{ x: scatXTicks[0], y: 0 }, { x: scatXTicks[scatXTicks.length - 1], y: 0 }],
        borderColor: '#6a6a6a', borderWidth: 1.1, borderDash: [5, 4], pointRadius: 0, fill: false, order: 2, yAxisID: 'y'
      },
      {
        type: 'line', data: [{ x: 0, y: -120 }, { x: 0, y: 120 }],
        borderColor: '#6a6a6a', borderWidth: 1.1, borderDash: [5, 4], pointRadius: 0, fill: false, order: 2, yAxisID: 'y'
      }
    ]
  },
  options: Object.assign({}, common.options, {
    scales: {
      x: axis({ pos: 'bottom', min: -0.4, max: 0.4, ticks: scatXTicks, h: 60, tl: 6, pad: 6, color: DARK, labelColor: '#262626' }),
      x2: axis({ pos: 'top', min: -0.4, max: 0.4, ticks: scatXTicks, h: 36, tl: 5, color: DARK, labels: false }),
      y: axis({ pos: 'left', min: -120, max: 120, ticks: scatYTicks, w: 85, tl: 9, pad: 3, color: DARK, labelColor: '#262626' }),
      y2: axis({ pos: 'right', min: -120, max: 120, ticks: scatYTicks, w: 133, tl: 8, color: DARK, labels: false })
    }
  }),
  plugins: [{
    id: 'decorC',
    afterDraw(chart) {
      const ctx = chart.ctx;
      label(ctx, '(c) Mesoscale modulation of MLD', 264, 25, { bold: true, size: 19.5, color: '#000' });
      label(ctx, "MLD anomaly, MLD' [m]", 26.7, 216, { rot: true });
      label(ctx, "SLA anomaly, SLA' [m]", 264, 437, {});
      // statistics box
      ctx.save();
      ctx.fillStyle = '#fff'; ctx.strokeStyle = '#8c8c8c'; ctx.lineWidth = 1;
      ctx.fillRect(95, 46, 162, 79); ctx.strokeRect(95.5, 46.5, 162, 79);
      ctx.restore();
      label(ctx, statsLines[0], 103, 63.5, { align: 'left', size: 16.5, color: '#000' });
      label(ctx, statsLines[1], 103, 83.5, { align: 'left', size: 16.5, color: '#000' });
      ctx.save();
      ctx.font = '16.5px ' + FONT;
      const base = 'Slope = 72.7 m m';
      const w = ctx.measureText(base).width;
      ctx.restore();
      label(ctx, base, 103, 107.5, { align: 'left', size: 16.5, color: '#000' });
      label(ctx, '-1', 103 + w + 1, 100, { align: 'left', size: 11.5, color: '#000' });
    }
  }]
});
</script>
</body>
</html>
